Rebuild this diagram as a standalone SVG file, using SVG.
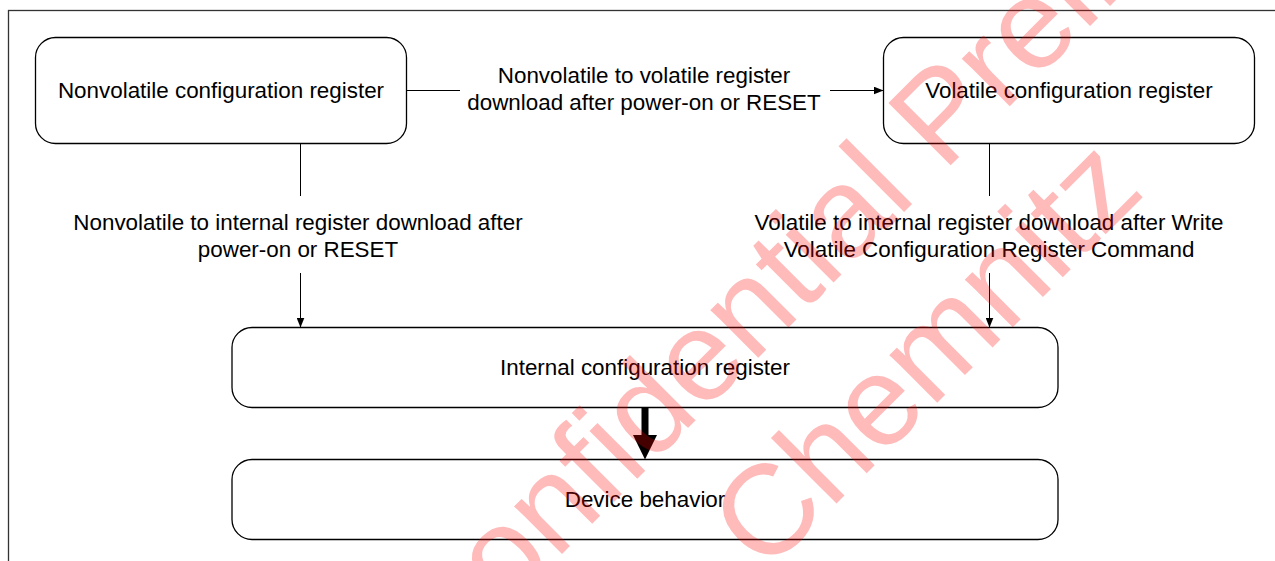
<svg xmlns="http://www.w3.org/2000/svg" width="1275" height="561" viewBox="0 0 1275 561">
  <style>
    .box { fill: #ffffff; stroke: #000000; stroke-width: 1.3; }
    .lbl { font-family: "Liberation Sans", Arial, sans-serif; font-size: 22.4px; fill: #000000; text-anchor: middle; }
    .conn { fill: none; stroke: #000000; stroke-width: 1; }
    .wm { font-family: "Liberation Sans", Arial, sans-serif; font-size: 128px; fill: #ff0000; fill-opacity: 0.27; }
  </style>
  <defs>
    <marker id="arr" markerUnits="userSpaceOnUse" markerWidth="10" markerHeight="8" refX="10" refY="4" orient="auto">
      <path d="M0,0 L10,4 L0,8 Z" fill="#000000"/>
    </marker>
  </defs>
  <rect x="0" y="0" width="1275" height="561" fill="#ffffff"/>
  <rect id="frame" x="8.5" y="10.5" width="1400" height="700" fill="none" stroke="#333333" stroke-width="1.3"/>

  <g id="connectors">
    <path class="conn" d="M406.5,90.5 H460"/>
    <path class="conn" d="M830,90.5 H883.5" marker-end="url(#arr)"/>
    <path class="conn" d="M300.5,143.5 V196"/>
    <path class="conn" d="M300.5,273 V327.5" marker-end="url(#arr)"/>
    <path class="conn" d="M989.5,143.5 V196"/>
    <path class="conn" d="M989.5,273 V327.5" marker-end="url(#arr)"/>
    <path d="M645,407.5 V436" stroke="#000000" stroke-width="7" fill="none"/>
    <path d="M633,435 L657,435 L645,459.5 Z" fill="#000000"/>
    <text class="lbl" x="644" y="83">Nonvolatile to volatile register</text>
    <text class="lbl" x="644" y="110">download after power-on or RESET</text>
    <text class="lbl" x="298" y="230">Nonvolatile to internal register download after</text>
    <text class="lbl" x="298" y="257">power-on or RESET</text>
    <text class="lbl" x="989" y="230">Volatile to internal register download after Write</text>
    <text class="lbl" x="989" y="257">Volatile Configuration Register Command</text>
  </g>

  <g id="nonvolatile">
    <rect class="box" x="35.5" y="37.5" width="371" height="106" rx="20" ry="20"/>
    <text class="lbl" x="221" y="98">Nonvolatile configuration register</text>
  </g>
  <g id="volatile">
    <rect class="box" x="883.5" y="37.5" width="371" height="106" rx="20" ry="20"/>
    <text class="lbl" x="1069" y="98">Volatile configuration register</text>
  </g>
  <g id="internal">
    <rect class="box" x="232" y="327.5" width="826" height="80" rx="20" ry="20"/>
    <text class="lbl" x="645" y="375">Internal configuration register</text>
  </g>
  <g id="device">
    <rect class="box" x="232" y="459.5" width="826" height="80" rx="20" ry="20"/>
    <text class="lbl" x="645" y="507">Device behavior</text>
  </g>

  <g id="watermark">
    <text class="wm" transform="translate(440,676) rotate(-45)">Confidential Preliminary</text>
    <text class="wm" transform="translate(765,575) rotate(-45)">Chemnitz</text>
  </g>
</svg>
